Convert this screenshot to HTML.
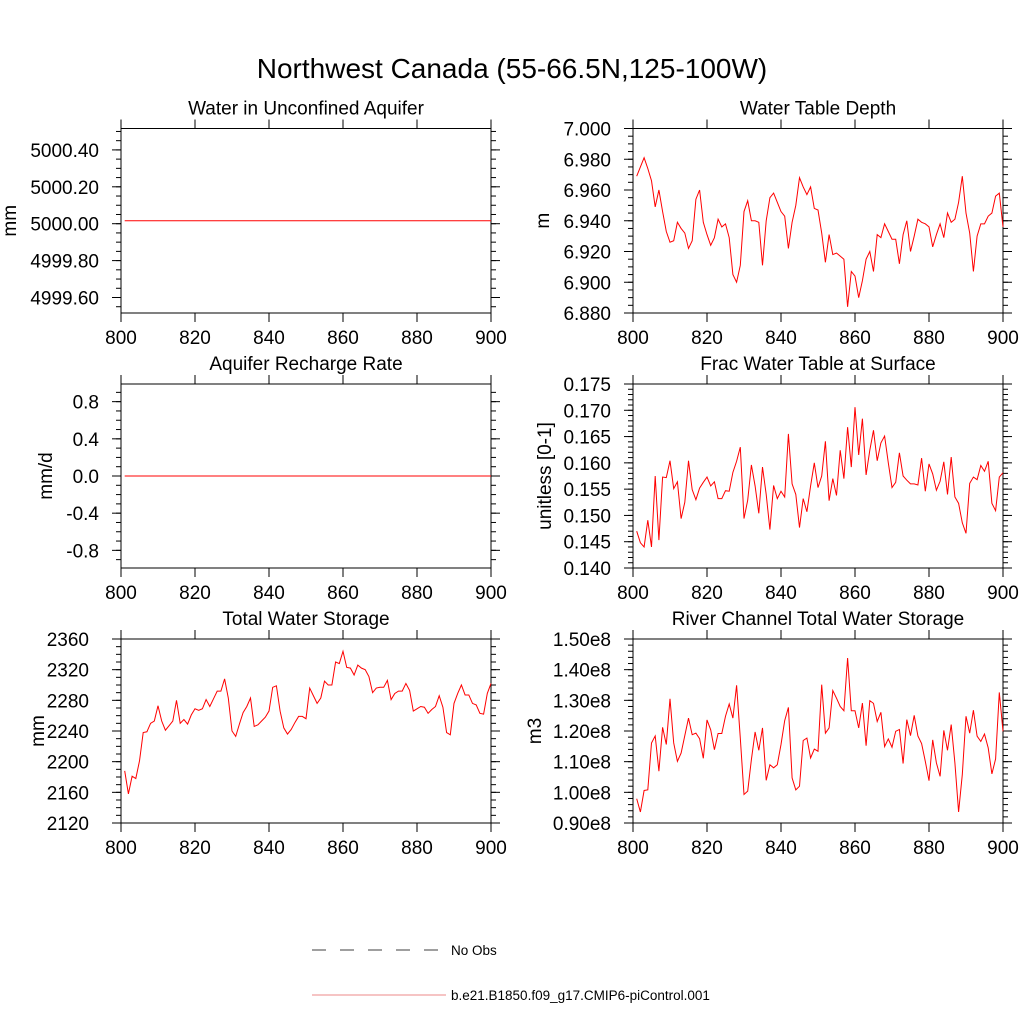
<!DOCTYPE html>
<html><head><meta charset="utf-8"><style>
html,body{margin:0;padding:0;background:#fff;}
svg{display:block;font-family:"Liberation Sans",Arial,sans-serif;}
</style></head><body>
<svg id="fig" width="1024" height="1024" viewBox="0 0 1024 1024" xmlns="http://www.w3.org/2000/svg">
<rect width="1024" height="1024" fill="#fff"/>
<text x="512" y="78" text-anchor="middle" font-size="28">Northwest Canada (55-66.5N,125-100W)</text>
<g id="legend">
<line x1="312" y1="950" x2="446" y2="950" stroke="#000" stroke-width="0.8" stroke-dasharray="14,14"/>
<text x="451" y="955" font-size="13.5">No Obs</text>
<line x1="312" y1="995" x2="446" y2="995" stroke="#e88" stroke-width="1"/>
<text x="451" y="1000" font-size="13.5">b.e21.B1850.f09_g17.CMIP6-piControl.001</text>
</g>
</svg>
<script>
const years = []; for (let y = 801; y <= 900; y++) years.push(y);
const xTicks = [800, 820, 840, 860, 880, 900];

const aquiferValues = new Array(100).fill(5000.016);
const rechargeValues = new Array(100).fill(0);
const wtdValues = [6.969,6.975,6.981,6.974,6.966,6.949,6.960,6.946,6.933,6.926,6.927,6.939,6.935,6.932,6.922,6.927,6.954,6.960,6.939,6.931,6.924,6.929,6.941,6.936,6.938,6.929,6.905,6.900,6.911,6.946,6.953,6.940,6.940,6.939,6.911,6.940,6.955,6.958,6.952,6.946,6.943,6.922,6.939,6.950,6.968,6.962,6.957,6.962,6.948,6.947,6.932,6.913,6.931,6.918,6.919,6.917,6.915,6.884,6.907,6.904,6.890,6.901,6.915,6.920,6.907,6.931,6.929,6.938,6.933,6.928,6.928,6.912,6.931,6.940,6.920,6.930,6.941,6.939,6.938,6.936,6.923,6.931,6.938,6.929,6.945,6.939,6.941,6.952,6.969,6.945,6.932,6.907,6.930,6.938,6.938,6.943,6.945,6.956,6.958,6.936];
const fracValues = [0.1470,0.1448,0.1440,0.1491,0.1440,0.1575,0.1453,0.1573,0.1572,0.1604,0.1551,0.1564,0.1494,0.1525,0.1604,0.1549,0.1530,0.1552,0.1563,0.1573,0.1556,0.1564,0.1532,0.1532,0.1547,0.1546,0.1582,0.1603,0.1630,0.1494,0.1529,0.1596,0.1556,0.1504,0.1592,0.1540,0.1473,0.1557,0.1532,0.1546,0.1535,0.1655,0.1560,0.1540,0.1477,0.1532,0.1507,0.1556,0.1600,0.1553,0.1575,0.1641,0.1528,0.1570,0.1538,0.1624,0.1570,0.1668,0.1592,0.1706,0.1615,0.1684,0.1577,0.1624,0.1662,0.1604,0.1638,0.1651,0.1600,0.1553,0.1563,0.1619,0.1575,0.1567,0.1560,0.1560,0.1558,0.1609,0.1546,0.1598,0.1579,0.1548,0.1565,0.1602,0.1540,0.1611,0.1535,0.1523,0.1486,0.1466,0.1561,0.1573,0.1568,0.1595,0.1584,0.1603,0.1523,0.1509,0.1573,0.1581];
const twsValues = [2188,2158,2181,2178,2201,2238,2239,2250,2253,2273,2253,2241,2247,2253,2280,2250,2255,2249,2261,2269,2267,2269,2281,2272,2282,2292,2292,2308,2283,2240,2233,2249,2264,2272,2283,2246,2248,2253,2258,2266,2297,2299,2266,2244,2236,2242,2251,2259,2259,2256,2296,2286,2276,2283,2305,2300,2300,2330,2328,2344,2323,2322,2313,2326,2322,2320,2311,2290,2296,2297,2297,2306,2281,2289,2292,2292,2302,2293,2266,2269,2272,2271,2263,2268,2272,2286,2271,2238,2235,2276,2289,2300,2287,2287,2276,2274,2263,2262,2289,2302];
const riverValues = [0.979,0.936,1.006,1.008,1.161,1.184,1.069,1.212,1.156,1.305,1.161,1.101,1.128,1.185,1.242,1.188,1.193,1.175,1.111,1.236,1.204,1.139,1.192,1.192,1.248,1.288,1.242,1.349,1.177,0.993,1.004,1.107,1.197,1.137,1.210,1.039,1.090,1.080,1.090,1.156,1.234,1.277,1.047,1.008,1.020,1.169,1.177,1.112,1.141,1.134,1.351,1.193,1.210,1.332,1.307,1.280,1.266,1.438,1.266,1.266,1.210,1.291,1.152,1.299,1.290,1.231,1.261,1.149,1.174,1.147,1.199,1.205,1.094,1.237,1.185,1.251,1.184,1.159,1.101,1.038,1.171,1.096,1.052,1.202,1.137,1.221,1.096,0.936,1.058,1.248,1.193,1.268,1.183,1.166,1.190,1.145,1.060,1.109,1.326,1.199];

const aquiferTicks = [4999.6, 4999.8, 5000.0, 5000.2, 5000.4];
const aquiferTickLabels = ["4999.60","4999.80","5000.00","5000.20","5000.40"];
const rechargeTicks = [-0.8, -0.4, 0, 0.4, 0.8];
const rechargeTickLabels = ["-0.8","-0.4","0.0","0.4","0.8"];
const wtdTicks = [6.88, 6.90, 6.92, 6.94, 6.96, 6.98, 7.00];
const wtdTickLabels = ["6.880","6.900","6.920","6.940","6.960","6.980","7.000"];
const fracTicks = [0.140,0.145,0.150,0.155,0.160,0.165,0.170,0.175];
const fracTickLabels = ["0.140","0.145","0.150","0.155","0.160","0.165","0.170","0.175"];
const twsTicks = [2120,2160,2200,2240,2280,2320,2360];
const twsTickLabels = ["2120","2160","2200","2240","2280","2320","2360"];
const riverTicks = [0.9,1.0,1.1,1.2,1.3,1.4,1.5];
const riverTickLabels = ["0.90e8","1.00e8","1.10e8","1.20e8","1.30e8","1.40e8","1.50e8"];

const NS = "http://www.w3.org/2000/svg";
const svg = document.getElementById("fig");
function mk(tag, attrs, parent) {
  const e = document.createElementNS(NS, tag);
  for (const k in attrs) e.setAttribute(k, attrs[k]);
  parent.appendChild(e); return e;
}
const panels = [
  {key:"aquifer", title:"Water in Unconfined Aquifer", ylab:"mm", ylabX:16, labR:99, x0:121, y0:128.5, y1:313, ymin:4999.516, ymax:5000.516, ticks:aquiferTicks, labels:aquiferTickLabels, minor:0.05, vals:aquiferValues},
  {key:"wtd", title:"Water Table Depth", ylab:"m", ylabX:549, labR:611, x0:633, y0:128.5, y1:313, ymin:6.88, ymax:7.0, ticks:wtdTicks, labels:wtdTickLabels, minor:0.005, vals:wtdValues},
  {key:"recharge", title:"Aquifer Recharge Rate", ylab:"mm/d", ylabX:52, labR:99, x0:121, y0:384, y1:568, ymin:-0.99, ymax:0.99, ticks:rechargeTicks, labels:rechargeTickLabels, minor:0.1, vals:rechargeValues},
  {key:"frac", title:"Frac Water Table at Surface", ylab:"unitless [0-1]", ylabX:551, labR:611, x0:633, y0:384, y1:568, ymin:0.140, ymax:0.175, ticks:fracTicks, labels:fracTickLabels, minor:0.001, vals:fracValues},
  {key:"tws", title:"Total Water Storage", ylab:"mm", ylabX:44, labR:89, x0:121, y0:639, y1:823, ymin:2120, ymax:2360, ticks:twsTicks, labels:twsTickLabels, minor:10, vals:twsValues},
  {key:"river", title:"River Channel Total Water Storage", ylab:"m3", ylabX:541, labR:611, x0:633, y0:639, y1:823, ymin:0.9, ymax:1.5, ticks:riverTicks, labels:riverTickLabels, minor:0.02, vals:riverValues}
];
const W = 370;
panels.forEach(p => {
  const g = mk("g", {}, svg);
  
  
  const xs = v => p.x0 + (v - 800) / 100 * W;
  const ys = v => p.y1 - (v - p.ymin) / (p.ymax - p.ymin) * (p.y1 - p.y0);
  const t = mk("text", {x:p.x0 + W/2, y:p.y0 - 14, "text-anchor":"middle", "font-size":"19"}, g);
  t.textContent = p.title;
  
  
  const yl = mk("text", {x:p.ylabX, y:(p.y0+p.y1)/2, "text-anchor":"middle", "font-size":"19", transform:`rotate(-90 ${p.ylabX} ${(p.y0+p.y1)/2})`}, g);
  yl.textContent = p.ylab;
  
  
  const start = Math.ceil((p.ymin - 1e-9) / p.minor);
  for (let k = start; k * p.minor <= p.ymax + 1e-9; k++) {
    const yy = ys(k * p.minor);
    mk("line", {x1:p.x0-5, x2:p.x0, y1:yy, y2:yy, stroke:"#000", "stroke-width":"1"}, g);
    mk("line", {x1:p.x0+W, x2:p.x0+W+5, y1:yy, y2:yy, stroke:"#000", "stroke-width":"1"}, g);
  }
  p.ticks.forEach((tv, i) => {
    const yy = ys(tv);
    mk("line", {x1:p.x0-9, x2:p.x0, y1:yy, y2:yy, stroke:"#000", "stroke-width":"1"}, g);
    mk("line", {x1:p.x0+W, x2:p.x0+W+9, y1:yy, y2:yy, stroke:"#000", "stroke-width":"1"}, g);
    const lb = mk("text", {x:p.labR, y:yy+7, "text-anchor":"end", "font-size":"19"}, g);
    lb.textContent = p.labels[i];
    
    
  });
  xTicks.forEach(tv => {
    const xx = xs(tv);
    mk("line", {x1:xx, x2:xx, y1:p.y1, y2:p.y1+9, stroke:"#000", "stroke-width":"1"}, g);
    mk("line", {x1:xx, x2:xx, y1:p.y0-9, y2:p.y0, stroke:"#000", "stroke-width":"1"}, g);
    const lb = mk("text", {x:xx, y:p.y1+31, "text-anchor":"middle", "font-size":"19"}, g);
    lb.textContent = String(tv);
    
    
  });
  const fr = mk("rect", {x:p.x0, y:p.y0, width:W, height:p.y1-p.y0, fill:"none", stroke:"#000", "stroke-width":"1"}, g);
  
  
  const pts = p.vals.map((v, i) => xs(years[i]).toFixed(2) + "," + ys(v).toFixed(2)).join(" ");
  const ln = mk("polyline", {points:pts, fill:"none", stroke:"#f00", "stroke-width":"1"}, g);
  
  
});
</script>
</body></html>
